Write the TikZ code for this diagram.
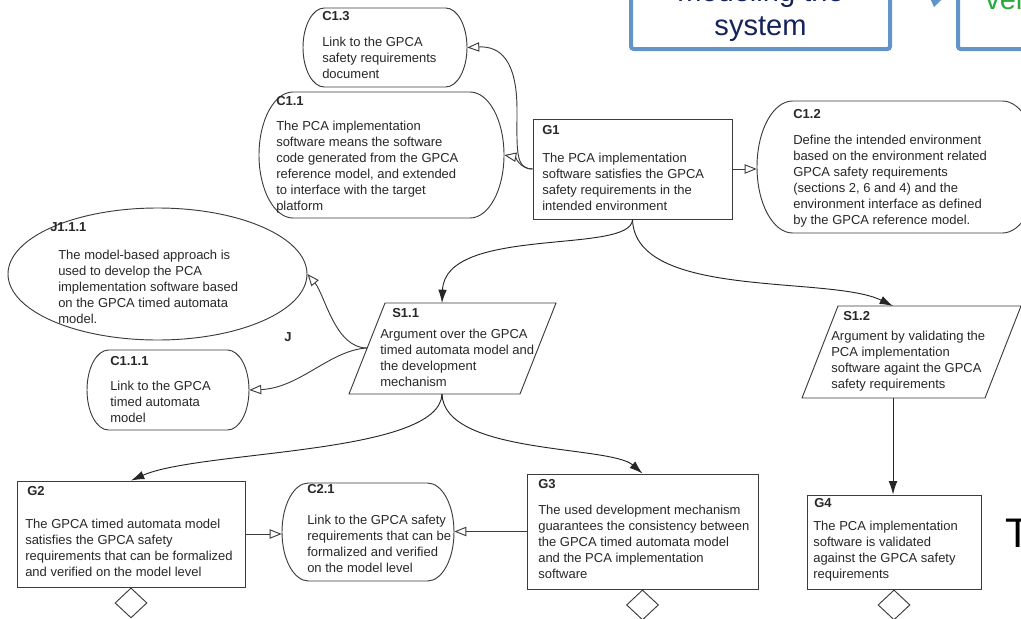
\documentclass[tikz,border=0pt]{standalone}
\usepackage{fontspec}
\setmainfont{Liberation Sans}
\usetikzlibrary{arrows.meta,shapes.geometric,fit}
\definecolor{txt}{RGB}{40,40,40}
\definecolor{edgec}{RGB}{60,60,60}
\definecolor{pptblue}{RGB}{98,148,202}
\definecolor{navy}{RGB}{20,35,90}
\definecolor{pptgreen}{RGB}{40,170,60}
% context shape: rectangle with elliptical ends; #1 name, (#2,#3) top-left, (#4,#5) bottom-right
\newcommand{\ctxbox}[5]{%
  \pgfmathsetmacro{\cxa}{0.27*(#5-#3)}%
  \pgfmathsetmacro{\cxb}{0.5*(#5-#3)}%
  \draw[ctxline] ({#2+\cxa},#3) -- ({#4-\cxa},#3)
     arc[start angle=-90,end angle=90,x radius=\cxa,y radius=\cxb]
     -- ({#2+\cxa},#5)
     arc[start angle=90,end angle=270,x radius=\cxa,y radius=\cxb] -- cycle;
  \node[fit={(#2,#3) (#4,#5)},inner sep=0pt] (#1) {};%
}
\begin{document}
\begin{tikzpicture}[x=0.75pt,y=-0.75pt,
 box/.style={draw=edgec,line width=0.7pt,fill=white,inner sep=0pt},
 ctxline/.style={draw=edgec,line width=0.7pt,fill=white},
 goal/.style={box,rectangle},
 diam/.style={box,diamond,minimum width=24pt,minimum height=22.5pt},
 lbl/.style={anchor=north west,inner sep=0pt,align=left,text=txt,font=\fontsize{9.75}{12}\selectfont},
 ttl/.style={anchor=north west,inner sep=0pt,text=txt,font=\fontsize{9.75}{12}\selectfont\bfseries},
 sup/.style={-{Latex[length=10pt,width=6.5pt]},line width=0.7pt,draw=black!85},
 inc/.style={-{Triangle[open,length=9pt,width=7pt,fill=white]},line width=0.7pt,draw=edgec},
 ppt/.style={draw=pptblue,line width=3pt,fill=white,rounded corners=2pt},
 big/.style={inner sep=0pt,font=\fontsize{21.8}{25}\selectfont}
]
\useasboundingbox (0,0) rectangle (1021,618);

% slide fragments at the top
\draw[ppt] (631,-10) rectangle (890,49);
\draw[ppt] (958,-10) rectangle (1045,49);
\fill[pptblue] (929,-4) -- (945,-4) -- (934,7) -- cycle;
\node[big,anchor=base,text=navy] (mod) at (760.5,1) {modeling the};
\node[big,anchor=base,text=navy] (sys) at (760.5,35) {system};
\node[big,anchor=base west,text=pptgreen] (ver) at (985,9) {ver};
\node[inner sep=0pt,anchor=base west,font=\fontsize{31}{34}\selectfont] (tt) at (1005,547) {T};

% goals
\node[goal,minimum width=149.25pt,minimum height=75pt] (G1) at (632.5,169) {};
\node[goal,minimum width=171pt,minimum height=79.5pt] (G2) at (131,534) {};
\node[goal,minimum width=173.25pt,minimum height=86.25pt] (G3) at (642.5,531.5) {};
\node[goal,minimum width=130.5pt,minimum height=70.5pt] (G4) at (894,542) {};

% contexts
\ctxbox{C13}{303}{8}{467}{87}
\ctxbox{C11}{259}{92}{504}{218}
\ctxbox{C12}{757}{101}{1038}{233}
\ctxbox{C111}{87}{350}{249}{430}
\ctxbox{C21}{282}{483}{454}{581}

% justification
\node[box,ellipse,minimum width=224.25pt,minimum height=99pt] (J111) at (157.5,274) {};

% strategies
\draw[draw=edgec,line width=0.7pt,fill=white] (385,303) -- (556,303) -- (520,394) -- (349,394) -- cycle;
\coordinate (S11top) at (442,303);
\coordinate (S11left) at (367,348);
\coordinate (S11bot) at (442,394);
\draw[draw=edgec,line width=0.7pt,fill=white] (838,306) -- (1021,306) -- (985,398) -- (802,398) -- cycle;
\coordinate (S12top) at (893,306);
\coordinate (S12bot) at (893,398);

% undeveloped markers
\node[diam,anchor=north] (G2u) at (G2.south) {};
\node[diam,anchor=north] (G3u) at (G3.south) {};
\node[diam,anchor=north] (G4u) at (G4.south) {};

% texts
\node[ttl] (tC13) at (322,11) {C1.3};
\node[lbl] (bC13) at (322,37) {Link to the GPCA\\safety requirements\\document};
\node[ttl] (tC11) at (276,96) {C1.1};
\node[lbl] (bC11) at (276,121) {The PCA implementation\\software means the software\\code generated from the GPCA\\reference model, and extended\\to interface with the target\\platform};
\node[ttl] (tG1) at (542,125) {G1};
\node[lbl] (bG1) at (542,153) {The PCA implementation\\software satisfies the GPCA\\safety requirements in the\\intended environment};
\node[ttl] (tC12) at (793,109) {C1.2};
\node[lbl] (bC12) at (793,135) {Define the intended environment\\based on the environment related\\GPCA safety requirements\\(sections 2, 6 and 4) and the\\environment interface as defined\\by the GPCA reference model.};
\node[ttl] (tJ) at (50,222) {J1.1.1};
\node[lbl] (bJ) at (58,250) {The model-based approach is\\used to develop the PCA\\implementation software based\\on the GPCA timed automata\\model.};
\node[ttl,anchor=center] (jl) at (288,337) {J};
\node[ttl] (tS11) at (392,308) {S1.1};
\node[lbl] (bS11) at (380,329) {Argument over the GPCA\\timed automata model and\\the development\\mechanism};
\node[ttl] (tC111) at (110,356) {C1.1.1};
\node[lbl] (bC111) at (110,381) {Link to the GPCA\\timed automata\\model};
\node[ttl] (tS12) at (843,311) {S1.2};
\node[lbl] (bS12) at (831,331) {Argument by validating the\\PCA implementation\\software againt the GPCA\\safety requirements};
\node[ttl] (tG2) at (27,486) {G2};
\node[lbl] (bG2) at (25,519) {The GPCA timed automata model\\satisfies the GPCA safety\\requirements that can be formalized\\and verified on the model level};
\node[ttl] (tC21) at (307,484) {C2.1};
\node[lbl] (bC21) at (307,515) {Link to the GPCA safety\\requirements that can be\\formalized and verified\\on the model level};
\node[ttl] (tG3) at (538,479) {G3};
\node[lbl] (bG3) at (538,505) {The used development mechanism\\guarantees the consistency between\\the GPCA timed automata model\\and the PCA implementation\\software};
\node[ttl] (tG4) at (814,498) {G4};
\node[lbl] (bG4) at (813,521) {The PCA implementation\\software is validated\\against the GPCA safety\\requirements};

% connectors
\draw[inc] (G1.west) .. controls (515,169) and (517,150) .. (517,110) .. controls (517,60) and (500,46) .. (C13.east);
\draw[inc] (G1.west) .. controls (520,169) and (515,157) .. (C11.east);
\draw[inc] (G1.east) -- (G1.east -| C12.west);
\draw[sup] (G1.south) .. controls (632,255) and (445,225) .. (S11top);
\draw[sup] (G1.south) .. controls (635,300) and (830,275) .. (S12top);
\draw[inc] (S11left) .. controls (335,348) and (325,295) .. (J111.east);
\draw[inc] (S11left) .. controls (330,350) and (300,388) .. (C111.east);
\draw[sup] (S11bot) .. controls (440,455) and (200,450) .. (G2.north);
\draw[sup] (S11bot) .. controls (444,455) and (610,445) .. (G3.north);
\draw[sup] (S12bot) -- (S12bot |- G4.north);
\draw[inc] (G2.east) -- (G2.east -| C21.west);
\draw[inc] (G3.west) -- (G3.west -| C21.east);
\end{tikzpicture}
\end{document}
